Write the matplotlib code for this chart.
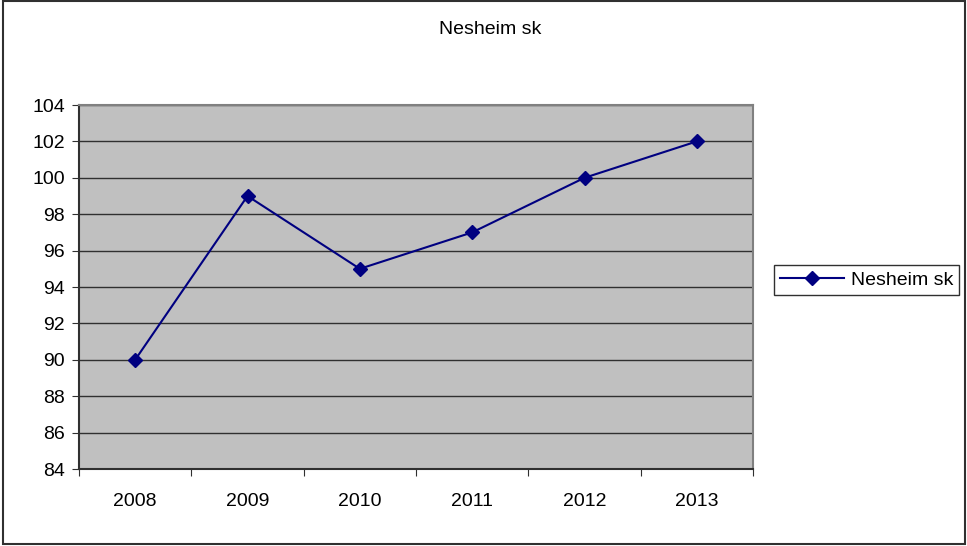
import matplotlib
matplotlib.use("Agg")
import matplotlib.pyplot as plt
from matplotlib.patches import Rectangle

years = ["2008", "2009", "2010", "2011", "2012", "2013"]
values = [90, 99, 95, 97, 100, 102]
series_name = "Nesheim sk"
title = "Nesheim sk"
yticks = list(range(84, 105, 2))

plt.rcParams['font.family'] = ['Liberation Sans', 'DejaVu Sans']
FS = 14

W, H = 967, 546
fig = plt.figure(figsize=(W / 100, H / 100), dpi=100)
ax = fig.add_axes([79 / W, 1 - 469 / H, (753 - 79) / W, (469 - 105) / H])
ax.set_facecolor('#C0C0C0')

x = list(range(len(years)))
ax.plot(x, values, color='#000080', linewidth=1.5, marker='D', markersize=7,
        markerfacecolor='#000080', markeredgecolor='#000080', label=series_name, zorder=3)

ax.set_xlim(-0.5, len(years) - 0.5)
ax.set_ylim(84, 104)
ax.set_yticks(yticks)
ax.set_yticklabels([str(v) for v in yticks], fontsize=FS)
ax.yaxis.grid(True, color='#303030', linewidth=1)
ax.set_axisbelow(True)

ax.set_xticks([i - 0.5 for i in range(len(years) + 1)])
ax.set_xticklabels([])
ax.set_xticks(x, minor=True)
ax.set_xticklabels(years, minor=True, fontsize=FS)
ax.tick_params(axis='x', which='minor', length=0, pad=17)
ax.tick_params(axis='x', which='major', length=5, direction='out', color='#303030')
ax.tick_params(axis='y', length=5, direction='out', color='#303030', pad=5)

for s in ['left', 'bottom']:
    ax.spines[s].set_color('#303030')
    ax.spines[s].set_linewidth(1.5)
for s in ['top', 'right']:
    ax.spines[s].set_color('#808080')
    ax.spines[s].set_linewidth(1.5)

fig.text(490 / W, 1 - 29 / H, title, ha='center', va='center', fontsize=FS)

leg = fig.legend(loc='center left', bbox_to_anchor=(774 / W, 1 - 280 / H), fontsize=FS,
                 fancybox=False, edgecolor='#303030', framealpha=1, handlelength=3.3,
                 borderpad=0.3, handletextpad=0.35, borderaxespad=0)
leg.get_frame().set_linewidth(1)

fig.patches.append(Rectangle((3 / W, 1 - 544 / H), (965 - 3) / W, (544 - 1) / H,
                             transform=fig.transFigure, fill=False,
                             edgecolor='#303030', linewidth=1.5))

fig.savefig('out.png', dpi=100)
